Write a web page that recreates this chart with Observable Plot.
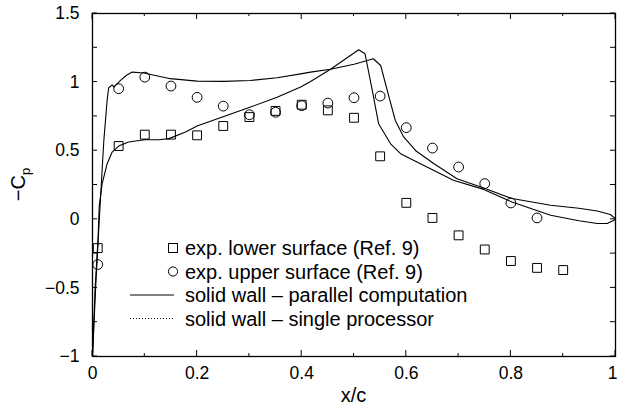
<!DOCTYPE html>
<html><head><meta charset="utf-8">
<script src="https://cdn.jsdelivr.net/npm/d3@7"></script>
<script src="https://cdn.jsdelivr.net/npm/@observablehq/plot@0.6"></script>
<style>body{margin:0;background:#fff} svg{display:block}</style>
</head><body><div id="chart"></div>
<script>
// Experimental data (Ref. 9)
const expLowerX  = [0.01,0.05,0.10,0.15,0.20,0.25,0.30,0.35,0.40,0.45,0.50,0.55,0.60,0.65,0.70,0.75,0.80,0.85,0.90];
const expLowerCp = [-0.21,0.534,0.617,0.617,0.612,0.68,0.745,0.79,0.835,0.794,0.74,0.459,0.12,0.01,-0.117,-0.22,-0.304,-0.354,-0.37];
const expUpperX  = [0.01,0.05,0.10,0.15,0.20,0.25,0.30,0.35,0.40,0.45,0.50,0.55,0.60,0.65,0.70,0.75,0.80,0.85];
const expUpperCp = [-0.33,0.952,1.036,0.971,0.889,0.825,0.762,0.78,0.828,0.847,0.886,0.898,0.668,0.519,0.381,0.26,0.119,0.01];

// Computation: solid wall (parallel) – upper and lower surface curves
const upperX  = [0,0.006,0.013,0.019,0.0217,0.028,0.031,0.0377,0.041,0.0535,0.065,0.076,0.098,0.149,0.2,0.251,0.302,0.353,0.398,0.417,0.455,0.5,0.537,0.551,0.567,0.579,0.595,0.618,0.653,0.697,0.748,0.802,0.876,0.93,0.965,0.99,1.0];
const upperCp = [-1,-0.5,0,0.4,0.575,0.87,0.959,0.98,0.964,1.012,1.05,1.073,1.066,1.025,1.007,1.005,1.012,1.032,1.06,1.073,1.094,1.13,1.17,1.121,0.89,0.72,0.6,0.5,0.405,0.296,0.228,0.151,0.102,0.08,0.06,0.035,0.005];
const lowerX  = [0,0.005,0.0105,0.013,0.0185,0.028,0.0376,0.05,0.069,0.1,0.127,0.146,0.178,0.2,0.251,0.302,0.353,0.398,0.417,0.455,0.509,0.521,0.535,0.547,0.57,0.589,0.627,0.69,0.748,0.802,0.876,0.93,0.965,0.984,0.997,1.0];
const lowerCp = [-1,-0.5,-0.15,0.1,0.26,0.405,0.49,0.534,0.563,0.58,0.58,0.588,0.636,0.68,0.75,0.818,0.89,0.964,1.005,1.094,1.236,1.207,0.94,0.697,0.55,0.478,0.405,0.284,0.218,0.126,0.03,-0.01,-0.031,-0.031,-0.007,0.005];

// Ticks
const xTicks = [0,0.2,0.4,0.6,0.8,1];
const xTickLabels = ["0","0.2","0.4","0.6","0.8","1"];
const xMinorTicks = [0.1,0.3,0.5,0.7,0.9];
const yTicks = [-1,-0.5,0,0.5,1,1.5];
const yTickLabels = ["\u22121","\u22120.5","0","0.5","1","1.5"];
const yMinorTicks = [-0.75,-0.25,0.25,0.75,1.25];

const legendLabels = ["exp. lower surface (Ref. 9)","exp. upper surface (Ref. 9)","solid wall \u2013 parallel computation","solid wall \u2013 single processor"];

const pts = (xs, ys) => xs.map((x,i) => ({x, y: ys[i]}));
const FONT = "'Liberation Sans', Arial, Helvetica, sans-serif";

const chart = Plot.plot({
  width: 618, height: 410,
  marginLeft: 92, marginRight: 3, marginTop: 13, marginBottom: 54,
  style: {fontFamily: FONT, fontSize: "17.5px", background: "white", color: "black"},
  x: {domain: [0,1]},
  y: {domain: [-1,1.5]},
  marks: [
    Plot.axisX({ticks: xTicks, tickSize: 0, tickPadding: 10, tickFormat: d => xTickLabels[xTicks.indexOf(d)], label: null, fontSize: 17.5}),
    Plot.axisY({ticks: yTicks, tickSize: 0, tickPadding: 13, tickFormat: d => yTickLabels[yTicks.indexOf(d)], label: null, fontSize: 17.5}),
    Plot.line(pts(upperX, upperCp), {x: "x", y: "y", stroke: "#000", strokeWidth: 1.1}),
    Plot.line(pts(lowerX, lowerCp), {x: "x", y: "y", stroke: "#000", strokeWidth: 1.1}),
    Plot.dot(pts(expLowerX, expLowerCp), {x: "x", y: "y", symbol: "square", r: 5, stroke: "#000", strokeWidth: 1, fill: "none"}),
    Plot.dot(pts(expUpperX, expUpperCp), {x: "x", y: "y", symbol: "circle", r: 4.9, stroke: "#000", strokeWidth: 1, fill: "none"}),
    Plot.frame({stroke: "#000", strokeWidth: 1.3})
  ]
});
document.getElementById("chart").appendChild(chart);

const svg = d3.select(chart);
// keep the last x tick label ("1") inside the picture
svg.selectAll("g[aria-label='x-axis tick label'] text").filter(function(){ return this.textContent === "1"; }).attr("dx", -3);

const sx = chart.scale("x"), sy = chart.scale("y");
const [x0, x1] = sx.range, [yb, yt] = sy.range;
const g = svg.append("g").attr("stroke", "#000").attr("stroke-width", 1);
// inward ticks on all four sides
xTicks.forEach(v => {
  const px = sx.apply(v);
  g.append("line").attr("x1", px).attr("x2", px).attr("y1", yb).attr("y2", yb - 6);
  g.append("line").attr("x1", px).attr("x2", px).attr("y1", yt).attr("y2", yt + 6);
});
xMinorTicks.forEach(v => {
  const px = sx.apply(v);
  g.append("line").attr("x1", px).attr("x2", px).attr("y1", yb).attr("y2", yb - 3);
  g.append("line").attr("x1", px).attr("x2", px).attr("y1", yt).attr("y2", yt + 3);
});
yTicks.concat(yMinorTicks).forEach(v => {
  const py = sy.apply(v);
  g.append("line").attr("y1", py).attr("y2", py).attr("x1", x0).attr("x2", x0 + 5);
  g.append("line").attr("y1", py).attr("y2", py).attr("x1", x1).attr("x2", x1 - 5);
});

// axis labels
svg.append("text").attr("x", (x0 + x1) / 2).attr("y", 402).attr("text-anchor", "middle")
  .attr("font-family", FONT).attr("font-size", 20).text("x/c");
const yl = svg.append("text").attr("transform", `translate(25,${(yb + yt) / 2}) rotate(-90)`)
  .attr("text-anchor", "middle").attr("font-family", FONT).attr("font-size", 20);
yl.append("tspan").text("\u2212C");
yl.append("tspan").attr("font-size", 13).attr("dy", 5).text("p");

// legend
const lg = svg.append("g").attr("font-family", FONT).attr("font-size", 20).attr("text-anchor", "start");
const rowY = [248, 271.5, 295, 318.5];
lg.append("rect").attr("x", 168.5).attr("y", rowY[0] - 4.5).attr("width", 9).attr("height", 9)
  .attr("fill", "none").attr("stroke", "#000");
lg.append("circle").attr("cx", 173).attr("cy", rowY[1]).attr("r", 4.6).attr("fill", "none").attr("stroke", "#000");
lg.append("line").attr("x1", 130).attr("x2", 174).attr("y1", rowY[2]).attr("y2", rowY[2]).attr("stroke", "#000");
lg.append("line").attr("x1", 130).attr("x2", 174).attr("y1", rowY[3]).attr("y2", rowY[3]).attr("stroke", "#000").attr("stroke-dasharray", "1,2");
legendLabels.forEach((t, i) => {
  lg.append("text").attr("x", 185).attr("y", rowY[i]).attr("dy", "0.35em").attr("text-anchor", "start").text(t);
});
</script>
</body></html>
